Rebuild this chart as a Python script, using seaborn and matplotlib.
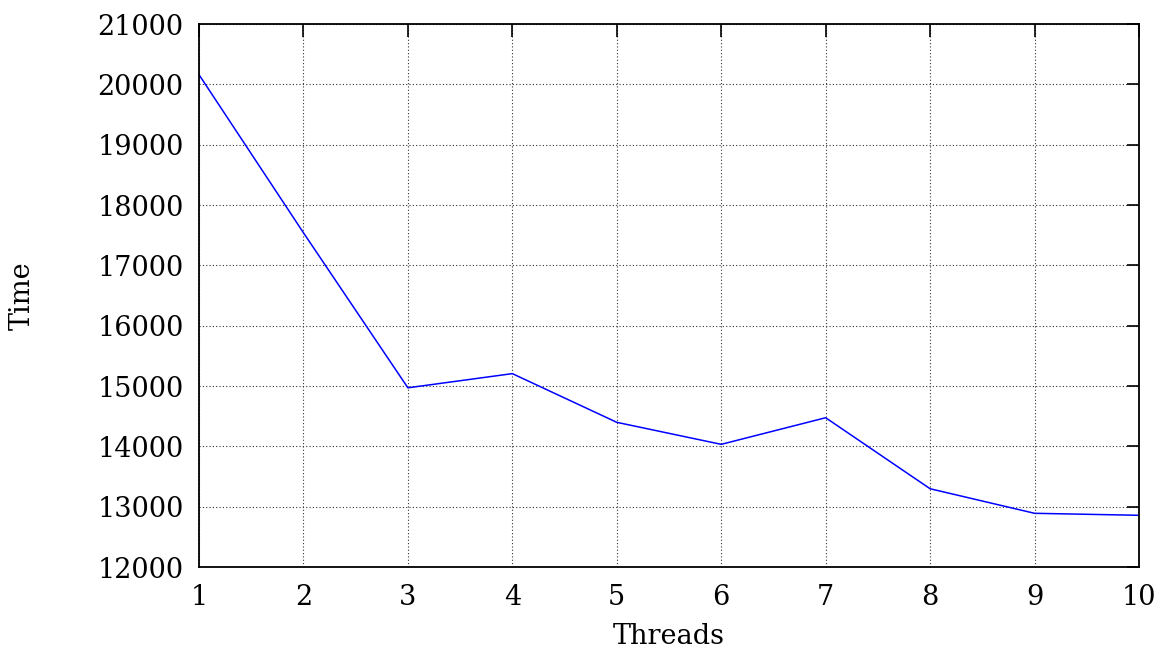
import matplotlib
matplotlib.use("Agg")
import matplotlib.pyplot as plt
import seaborn as sns
import pandas as pd

threads = [1, 2, 3, 4, 5, 6, 7, 8, 9, 10]
times = [20160, 17540, 14970, 15205, 14398, 14033, 14474, 13297, 12890, 12857]

x_ticks = [1, 2, 3, 4, 5, 6, 7, 8, 9, 10]
y_ticks = [12000, 13000, 14000, 15000, 16000, 17000, 18000, 19000, 20000, 21000]

sns.set_style("white")
plt.rcParams['font.family'] = ['DejaVu Serif']

df = pd.DataFrame({"Threads": threads, "Time": times})

fig = plt.figure(figsize=(11.62, 6.52), dpi=100)
ax = fig.add_axes([199/1162, 1 - 567/652, (1139-199)/1162, (567-24)/652])
sns.lineplot(data=df, x="Threads", y="Time", ax=ax, color="#0000ff", linewidth=1.1)

ax.set_xlim(1, 10)
ax.set_ylim(12000, 21000)
ax.set_xticks(x_ticks)
ax.set_yticks(y_ticks)
ax.set_xticklabels([str(t) for t in x_ticks], fontsize=19.5)
ax.set_yticklabels([str(t) for t in y_ticks], fontsize=19.5)
ax.tick_params(axis="y", pad=11)
ax.tick_params(axis="x", pad=12)
ax.tick_params(direction="in", length=9, width=1.2, top=True, right=True, colors="black", labelcolor="black")
ax.grid(True, linestyle=(0, (1, 2)), color="#333333", linewidth=0.8)
for s in ax.spines.values():
    s.set_linewidth(1.3)
    s.set_color("black")
ax.set_xlabel("Threads", fontsize=19.5, color="black", va="center")
ax.set_ylabel("Time", fontsize=19.5, color="black", va="center")
ax.xaxis.set_label_coords(0.5, (567 - 636) / 543)
ax.yaxis.set_label_coords((22 - 199) / 940, 0.5)

fig.savefig("out.png", dpi=100)
